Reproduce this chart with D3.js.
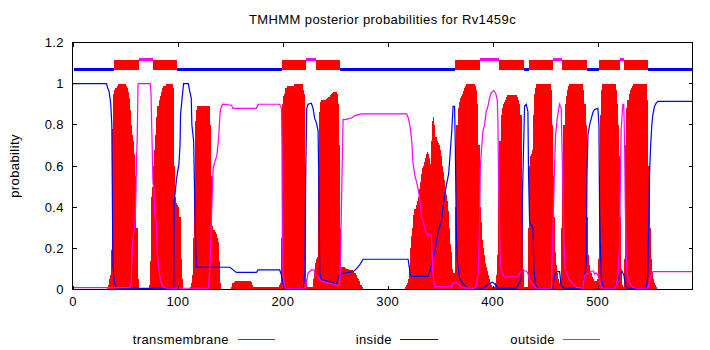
<!DOCTYPE html>
<html>
<head>
<meta charset="utf-8">
<script src="https://cdn.jsdelivr.net/npm/d3@7"></script>
<style>
  html, body { margin: 0; padding: 0; background: #fff; }
  svg { display: block; }
  text { font-family: "Liberation Sans", Arial, sans-serif; font-size: 13px; letter-spacing: 0.4px; fill: #000; }
</style>
</head>
<body>
<svg id="chart" width="710" height="350"></svg>
<script>
// ---------------- data ----------------
const chartTitle = "TMHMM posterior probabilities for Rv1459c";
const seqLength = 590;
const xTickValues = [0, 100, 200, 300, 400, 500];
const yTickValues = [0, 0.2, 0.4, 0.6, 0.8, 1, 1.2];
const yTickLabels = ["0", "0.2", "0.4", "0.6", "0.8", "1", "1.2"];
const legendLabels = ["transmembrane", "inside", "outside"];

// posterior probability of transmembrane state, residue 0..590
const tmProb = [
  0,0,0,0,0,0,0,0,0,0,
  0,0,0,0,0,0,0,0,0,0,
  0,0,0,0,0,0,0,0,0,0,
  0,0,0,.01,.02,.05,.07,.19,.78,.95,
  .97,.98,.99,1,1,1,1,1,1,1,
  1,.99,.98,.96,.93,.87,.8,.75,.72,.66,
  .55,.3,.05,0,0,0,0,0,0,0,
  0,0,0,.02,.14,.45,.5,.6,.68,.75,
  .84,.89,.92,.94,.96,.98,.99,.99,.99,1,
  1,1,1,1,1,1,.98,.6,.45,.42,
  .41,.4,.35,.15,.05,0,0,0,0,0,
  0,0,.01,.03,.07,.25,.5,.82,.87,.89,
  .89,.89,.89,.89,.89,.89,.89,.89,.89,.89,
  .89,.8,.55,.31,.29,.29,.28,.27,.25,.23,
  .14,.03,0,0,0,0,0,0,0,0,
  0,.01,.03,.033,.035,.04,.04,.04,.04,.04,
  .04,.04,.04,.04,.04,.04,.04,.04,.04,.04,
  .035,.02,.01,.01,.01,.01,.01,.01,.01,.01,
  .01,.01,.01,.01,.01,.01,.01,.01,.01,.01,
  .01,.01,.01,.01,.01,.01,.01,.02,.03,.25,
  .9,.94,.95,.98,.99,.99,.99,.99,.99,.99,
  .99,1,1,1,1,1,1,1,1,1,
  .97,.95,.5,.05,.01,.01,.01,.01,.01,.05,
  .08,.13,.15,.16,.55,.86,.91,.92,.92,.92,
  .92,.922,.925,.93,.935,.945,.95,.955,.96,.96,
  .96,.96,.95,.9,.7,.3,.11,.11,.11,.108,
  .105,.1,.1,.1,.095,.095,.095,.09,.08,.08,
  .07,.055,.05,.04,.02,.02,.01,0,0,0,
  0,0,0,0,0,0,0,0,0,0,
  0,0,0,0,0,0,0,0,0,0,
  0,0,0,0,0,0,0,0,0,0,
  0,0,0,0,0,0,0,.01,.02,.03,
  .05,.12,.2,.26,.3,.36,.39,.41,.43,.45,
  .49,.52,.56,.59,.6,.62,.64,.66,.67,.66,
  .64,.61,.72,.82,.84,.8,.74,.72,.71,.7,
  .68,.65,.6,.57,.53,.5,.46,.43,.38,.3,
  .22,.18,.1,.08,.08,.4,.8,.88,.91,.93,
  .94,.95,.965,.98,.99,1,1,1,1,1,
  1,1,1,1,.99,.97,.9,.7,.4,.33,
  .24,.2,.17,.13,.11,.09,.07,.05,.03,.02,
  .01,.01,.01,.03,.07,.17,.5,.72,.85,.88,
  .9,.91,.92,.935,.945,.945,.945,.945,.945,.945,
  .945,.945,.945,.945,.935,.92,.9,.85,.5,.1,
  .01,.01,.01,.01,.3,.6,.65,.66,.68,.85,
  .95,.98,1,1,1,1,1,1,1,1,
  1,1,1,1,1,1,.97,.8,.55,.35,
  .18,.12,.08,.05,.03,.04,.3,.6,.8,.9,
  .94,.97,.99,1,1,1,1,1,1,1,
  1,1,1,1,1,1,1,.97,.9,.8,
  .35,.17,.12,.09,.08,.06,.05,.04,.04,.04,
  .05,.15,.55,.85,.97,1,1,1,1,1,
  1,1,1,1,1,1,1,1,.97,.9,
  .8,.65,.35,.1,.02,.01,.15,.7,.88,.92,
  .95,.97,.98,.99,1,1,1,1,1,1,
  1,1,1,1,1,1,1,1,.92,.6,
  .3,.15,.08,.05,.03,.02,.01,0,0,0,
  0,0,0,0,0,0,0,0,0,0,
  0,0,0,0,0,0,0,0,0,0,
  0,0,0,0,0,0,0,0,0,0,
  0
];

// posterior probability of "inside" state: [residue, probability]
const insideProb = [
  [0,1],[32,1],[33,0.98],[34.5,0.96],[36,0.9],[37,0.8],[37.5,0.46],[38.1,0.12],[39,0.05],[40.3,0.02],[42,0.005],
  [96,0.005],[96.5,0.43],[99,0.55],[101,0.61],[102,0.7],[102.5,0.85],[104,0.93],[105.4,1],[110,1],[111,0.97],
  [112.7,0.93],[113.3,0.8],[115,0.72],[116,0.44],[117.5,0.11],[149.5,0.108],[155.8,0.083],[174.9,0.083],
  [176.4,0.095],[197,0.095],[198.7,0.07],[200,0.03],[201.8,0.013],[205,0.006],[219.3,0.006],[220.9,0.07],
  [221.8,0.56],[222.8,0.88],[224,0.9],[227.2,0.905],[228.8,0.88],[230.4,0.83],[232,0.81],[233.6,0.77],
  [234.2,0.56],[235.2,0.087],[236.5,0.05],[238.4,0.046],[244.7,0.038],[251,0.027],[254,0.07],[257.4,0.078],
  [267,0.087],[270,0.1],[273.3,0.12],[276.5,0.147],[319.4,0.147],[321.6,0.07],[322.5,0.064],[338.4,0.064],
  [340,0.087],[341.6,0.12],[344.8,0.18],[348,0.28],[351,0.33],[352.5,0.39],[354,0.45],[356,0.51],[358,0.56],
  [359.5,0.66],[361,0.77],[362.3,0.89],[363.7,0.89],[364.4,0.7],[365.3,0.3],[366.3,0.14],[368.5,0.054],
  [371.7,0.03],[376.5,0.006],[390.7,0.006],[394,0.018],[397,0.03],[400,0.035],[403.4,0.02],[405,0.005],
  [422.5,0.005],[427.2,0.05],[428.5,0.48],[430.4,0.89],[432,0.9],[433.6,0.865],[434.2,0.56],[435.2,0.33],
  [436.8,0.31],[438.4,0.3],[439.3,0.1],[440.6,0.03],[443,0.005],[457.4,0.005],[459,0.07],[460.6,0.087],
  [463.8,0.087],[465.3,0.02],[468.5,0.005],[486,0.005],[487.6,0.07],[489.2,0.12],[489.9,0.56],[490.8,0.75],
  [492.4,0.8],[494,0.83],[495.5,0.86],[497.1,0.875],[500.3,0.88],[501.3,0.8],[501.9,0.39],[502.5,0.23],
  [503.5,0.07],[505,0.02],[506.7,0.005],[516.2,0.005],[519.4,0.045],[521,0.07],[523.5,0.087],[525,0.07],
  [526.7,0.02],[528.9,0.005],[546.3,0.005],[547.9,0.07],[549.5,0.56],[550.5,0.69],[551.7,0.8],[552.7,0.85],
  [554.3,0.89],[555.9,0.905],[557.5,0.914],[590,0.914]
];

// posterior probability of "outside" state: [residue, probability]
const outsideProb = [
  [0,0.009],[54,0.009],[55.5,0.03],[56.5,0.2],[57.8,0.27],[59.3,0.34],[60,0.47],[60.5,0.63],[61.2,0.73],[62,1],
  [73.6,1],[74.3,0.96],[75,0.8],[76.2,0.52],[77,0.5],[78,0.36],[79.4,0.33],[80.3,0.17],[81.3,0.135],[82.5,0.07],
  [84,0.038],[85.7,0.013],[88.9,0.006],[129,0.006],[130.8,0.14],[132.3,0.4],[133.6,0.59],[135.2,0.62],
  [137.1,0.65],[138.7,0.73],[140.2,0.86],[141.5,0.89],[143,0.9],[151,0.895],[152.6,0.88],[174.9,0.88],
  [176.4,0.9],[197,0.9],[198.7,0.88],[199.2,0.7],[199.6,0.23],[200.3,0.07],[201.2,0.03],[202.5,0.006],
  [221,0.006],[222.5,0.03],[224,0.08],[227.2,0.095],[229.8,0.095],[231,0.07],[233.6,0.06],[236.8,0.038],
  [238.4,0.038],[244.7,0.03],[251,0.022],[254.3,0.02],[255.5,0.3],[257.4,0.825],[259.3,0.825],[265.6,0.833],
  [268.8,0.845],[275,0.853],[318,0.853],[319.6,0.833],[321.3,0.79],[322.9,0.72],[324,0.62],[325.7,0.557],
  [327.3,0.525],[328.9,0.49],[330.5,0.44],[332,0.36],[333.6,0.33],[336.8,0.27],[341.6,0.265],[342.5,0.15],
  [343.2,0.07],[344.8,0.014],[361,0.014],[362,0.03],[365.3,0.034],[368.5,0.02],[371.7,0.008],[382.8,0.006],
  [384.4,0.02],[386,0.07],[386.8,0.17],[387.6,0.36],[388.2,0.59],[389.1,0.655],[390.7,0.77],[392.3,0.8],
  [393.9,0.865],[395.5,0.89],[397,0.93],[398.7,0.955],[400.9,0.966],[402.8,0.955],[404.4,0.92],[405,0.817],
  [405.7,0.5],[406.6,0.28],[407.3,0.12],[408.8,0.087],[410,0.07],[411.4,0.062],[424,0.062],[425.7,0.078],
  [427.2,0.09],[432,0.09],[433.6,0.078],[435.2,0.045],[438.4,0.022],[441.5,0.006],[456,0.006],[457,0.2],
  [458,0.4],[459,0.6],[460,0.75],[461.5,0.83],[463.7,0.9],[465.3,0.88],[466.5,0.6],[467.9,0.23],[469.1,0.1],
  [471,0.07],[473.3,0.046],[476.5,0.03],[480,0.01],[486,0.006],[487.6,0.07],[492.4,0.08],[494,0.09],
  [496.2,0.09],[497,0.075],[498.7,0.08],[500.3,0.07],[501.9,0.04],[503.5,0.013],[505,0.006],[516.2,0.006],
  [517.8,0.02],[519.4,0.07],[521,0.23],[521.8,0.56],[522.5,0.78],[524.1,0.9],[525,0.9],[525.7,0.72],
  [526.4,0.4],[527.3,0.18],[528.2,0.07],[529.8,0.04],[532,0.018],[535.2,0.006],[547.9,0.006],[549.5,0.04],
  [551.1,0.07],[552.7,0.087],[590,0.087]
];

// predicted topology (residue ranges)
const insideSegments = [[1,39],[100,199],[255,364],[430,434],[490,501],[549,590]];
const tmSegments = [[40,62],[77,99],[200,222],[232,254],[365,387],[407,429],[435,457],[467,489],[502,521],[526,548]];
const outsideSegments = [[63,76],[223,231],[388,406],[458,466],[522,525]];
const topoLevels = { inside: 1.07, outside: 1.115, tmLow: 1.068, tmHigh: 1.117 };

// ---------------- drawing ----------------
const colors = { tm: "#ff0000", inside: "#0000ff", outside: "#ff00ff" };
const svg = d3.select("#chart");
const plotLeft = 72.5, plotRight = 692.5, plotTop = 42.5, plotBottom = 289.5;

const x = d3.scaleLinear().domain([0, seqLength]).range([plotLeft + 0.5, plotRight - 0.5]);
const y = d3.scaleLinear().domain([0, 1.2]).range([plotBottom, plotTop]);

// title
svg.append("text")
  .attr("x", (plotLeft + plotRight) / 2).attr("y", 24)
  .attr("text-anchor", "middle")
  .text(chartTitle);

// y label
svg.append("text")
  .attr("transform", `translate(19,${(plotTop + plotBottom) / 2}) rotate(-90)`)
  .attr("text-anchor", "middle")
  .text("probability");

const plot = svg.append("g");

// TM impulses
plot.append("g").attr("shape-rendering", "crispEdges")
  .selectAll("rect")
  .data(tmProb.map((v, i) => [i, v]).filter(d => d[1] > 0))
  .join("rect")
  .attr("x", d => x(d[0] - 0.5))
  .attr("width", d => x(d[0] + 0.5) - x(d[0] - 0.5))
  .attr("y", d => y(d[1]))
  .attr("height", d => y(0) - y(d[1]))
  .attr("fill", colors.tm);

const line = d3.line().x(d => x(d[0])).y(d => y(d[1]));

plot.append("path").datum(insideProb)
  .attr("d", line).attr("fill", "none")
  .attr("stroke", colors.inside).attr("stroke-width", 1.2);

plot.append("path").datum(outsideProb)
  .attr("d", line).attr("fill", "none")
  .attr("stroke", colors.outside).attr("stroke-width", 1.2);

// topology bar
const topo = plot.append("g").attr("shape-rendering", "crispEdges");
topo.selectAll("rect.in").data(insideSegments).join("rect").attr("class", "in")
  .attr("x", d => x(d[0] - 0.5)).attr("width", d => x(d[1] + 0.5) - x(d[0] - 0.5))
  .attr("y", y(topoLevels.inside) - 1.5).attr("height", 3.5)
  .attr("fill", colors.inside);
topo.selectAll("rect.out").data(outsideSegments).join("rect").attr("class", "out")
  .attr("x", d => x(d[0] - 0.5)).attr("width", d => x(d[1] + 0.5) - x(d[0] - 0.5))
  .attr("y", y(topoLevels.outside) - 1.5).attr("height", 3)
  .attr("fill", colors.outside);
topo.selectAll("rect.tm").data(tmSegments).join("rect").attr("class", "tm")
  .attr("x", d => x(d[0] - 0.5)).attr("width", d => x(d[1] + 0.5) - x(d[0] - 0.5))
  .attr("y", y(topoLevels.tmHigh)).attr("height", y(topoLevels.tmLow) - y(topoLevels.tmHigh))
  .attr("fill", colors.tm);

// frame
svg.append("rect")
  .attr("x", plotLeft).attr("y", plotTop)
  .attr("width", plotRight - plotLeft).attr("height", plotBottom - plotTop)
  .attr("fill", "none").attr("stroke", "#000").attr("shape-rendering", "crispEdges");

// ticks (inward, mirrored)
const tickLen = 4;
const tk = svg.append("g").attr("stroke", "#000").attr("shape-rendering", "crispEdges");
xTickValues.forEach(v => {
  const px = Math.round(x(v)) + 0.5;
  tk.append("line").attr("x1", px).attr("x2", px).attr("y1", plotBottom).attr("y2", plotBottom - tickLen);
  tk.append("line").attr("x1", px).attr("x2", px).attr("y1", plotTop).attr("y2", plotTop + tickLen);
});
yTickValues.forEach(v => {
  const py = Math.round(y(v) - 0.5) + 0.5;
  tk.append("line").attr("x1", plotLeft).attr("x2", plotLeft + tickLen).attr("y1", py).attr("y2", py);
  tk.append("line").attr("x1", plotRight).attr("x2", plotRight - tickLen).attr("y1", py).attr("y2", py);
});

// tick labels
svg.append("g").selectAll("text").data(xTickValues).join("text")
  .attr("x", d => x(d)).attr("y", 306)
  .attr("text-anchor", "middle")
  .text(d => String(d));
svg.append("g").selectAll("text").data(yTickValues).join("text")
  .attr("x", 64).attr("y", d => y(d) + 4.5)
  .attr("text-anchor", "end")
  .text((d, i) => yTickLabels[i]);

// legend
const legendItems = [
  { label: legendLabels[0], color: colors.tm, textEnd: 229, x1: 238, x2: 275 },
  { label: legendLabels[1], color: colors.inside, textEnd: 392, x1: 400, x2: 438 },
  { label: legendLabels[2], color: colors.outside, textEnd: 555, x1: 563, x2: 600 }
];
const lg = svg.append("g");
legendItems.forEach(it => {
  lg.append("text").attr("x", it.textEnd).attr("y", 344).attr("text-anchor", "end").text(it.label);
  lg.append("line").attr("x1", it.x1).attr("x2", it.x2).attr("y1", 339.5).attr("y2", 339.5)
    .attr("stroke", it.color).attr("shape-rendering", "crispEdges");
});
</script>
</body>
</html>
